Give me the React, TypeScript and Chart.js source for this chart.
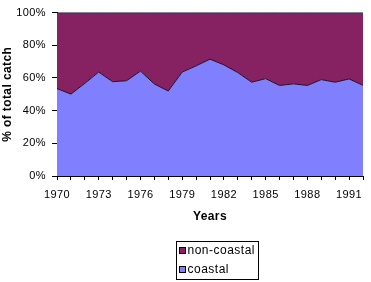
import { useEffect, useRef } from 'react';
import { Chart, registerables } from 'chart.js';

Chart.register(...registerables);

const years = ['1970', '1971', '1972', '1973', '1974', '1975', '1976', '1977', '1978', '1979', '1980', '1981', '1982', '1983', '1984', '1985', '1986', '1987', '1988', '1989', '1990', '1991', '1992'];
const coastal = [53.5, 50.1, 56.7, 63.6, 57.7, 58.3, 64.2, 56.3, 52.0, 63.6, 67.4, 71.5, 68.0, 63.3, 57.4, 59.6, 55.4, 56.4, 55.4, 59.0, 57.4, 59.4, 55.5];
const nonCoastal = [46.5, 49.9, 43.3, 36.4, 42.3, 41.7, 35.8, 43.7, 48.0, 36.4, 32.6, 28.5, 32.0, 36.7, 42.6, 40.4, 44.6, 43.6, 44.6, 41.0, 42.6, 40.6, 44.5];
const yTicks = [0, 20, 40, 60, 80, 100];
const seriesNames = ['coastal', 'non-coastal'];
const legendOrder = ['non-coastal', 'coastal'];

const COASTAL_COLOR = '#8080FF';
const NONCOASTAL_COLOR = '#862261';
const FONT = '"Liberation Sans", Arial, sans-serif';

const spacing = {
  id: 'spacing',
  beforeDraw(chart: any) {
    chart.ctx.letterSpacing = '0.4px';
  },
};

const boxLegend = {
  id: 'boxLegend',
  afterDraw(chart: any) {
    const ctx = chart.ctx;
    const colors: Record<string, string> = { coastal: COASTAL_COLOR, 'non-coastal': NONCOASTAL_COLOR };
    ctx.save();
    ctx.font = '12px ' + FONT;
    ctx.letterSpacing = '0.5px';
    const w = 82;
    const h = 38;
    const x = chart.width - 195 + 0.5;
    const y = chart.height - 3 - h + 0.5;
    ctx.fillStyle = '#fff';
    ctx.fillRect(x, y, w, h);
    ctx.strokeStyle = '#000';
    ctx.lineWidth = 1;
    ctx.strokeRect(x, y, w, h);
    legendOrder.forEach((name, i) => {
      const rowY = y + 9 + i * 19;
      ctx.fillStyle = colors[name];
      ctx.fillRect(x + 3, rowY - 3, 6, 6);
      ctx.strokeStyle = '#000';
      ctx.strokeRect(x + 3, rowY - 3, 6, 6);
      ctx.fillStyle = '#000';
      ctx.textBaseline = 'middle';
      ctx.textAlign = 'left';
      ctx.fillText(name, x + 11, rowY + 0.5);
    });
    ctx.restore();
  },
};

export default function App() {
  const ref = useRef<HTMLCanvasElement | null>(null);

  useEffect(() => {
    document.body.style.margin = '0';
    if (!ref.current) return;
    Chart.defaults.font.family = FONT;
    Chart.defaults.color = '#000';
    const chart = new Chart(ref.current, {
      type: 'line',
      data: {
        labels: years,
        datasets: [
          {
            label: seriesNames[0],
            data: coastal,
            backgroundColor: COASTAL_COLOR,
            borderColor: '#10103a',
            borderWidth: 1,
            fill: 'origin',
            pointRadius: 0,
            tension: 0,
          },
          {
            label: seriesNames[1],
            data: nonCoastal,
            backgroundColor: NONCOASTAL_COLOR,
            borderColor: '#10103a',
            borderWidth: 1,
            fill: '-1',
            pointRadius: 0,
            tension: 0,
          },
        ],
      },
      options: {
        animation: false,
        responsive: false,
        layout: { padding: { top: 7, right: 2, bottom: 58, left: 0 } },
        plugins: {
          legend: { display: false },
          tooltip: { enabled: false },
        },
        scales: {
          x: {
            offset: false,
            grid: { display: true, drawOnChartArea: false, drawTicks: true, tickLength: 4, color: '#000' },
            border: { display: true, color: '#000' },
            ticks: {
              autoSkip: false,
              maxRotation: 0,
              padding: 8,
              font: { size: 11, family: FONT },
              color: '#000',
              callback: (_v: any, i: number) => (i % 3 === 0 ? years[i] : ''),
            },
            title: {
              display: true,
              text: 'Years',
              font: { size: 12, weight: 'bold', family: FONT },
              color: '#000',
              padding: { top: 0, bottom: 0 },
            },
            afterFit: (scale: any) => {
              scale.height = 48;
            },
          },
          y: {
            stacked: true,
            min: 0,
            max: 100,
            afterBuildTicks: (scale: any) => {
              scale.ticks = yTicks.map((v) => ({ value: v }));
            },
            grid: { display: true, drawOnChartArea: false, drawTicks: true, tickLength: 5, color: '#000' },
            border: { display: true, color: '#000' },
            ticks: {
              padding: 6,
              font: { size: 11, family: FONT },
              color: '#000',
              callback: (v: any) => v + '%',
            },
            title: {
              display: true,
              text: '% of total catch',
              font: { size: 12, weight: 'bold', family: FONT },
              color: '#000',
              padding: { top: 0, bottom: 0 },
            },
            afterFit: (scale: any) => {
              scale.width = 57;
            },
          },
        },
      },
      plugins: [spacing, boxLegend],
    });
    return () => chart.destroy();
  }, []);

  return (
    <div style={{ position: 'absolute', left: 0, top: 0, width: 371, height: 282, background: '#fff' }}>
      <canvas ref={ref} width={371} height={282} style={{ display: 'block' }} />
    </div>
  );
}
